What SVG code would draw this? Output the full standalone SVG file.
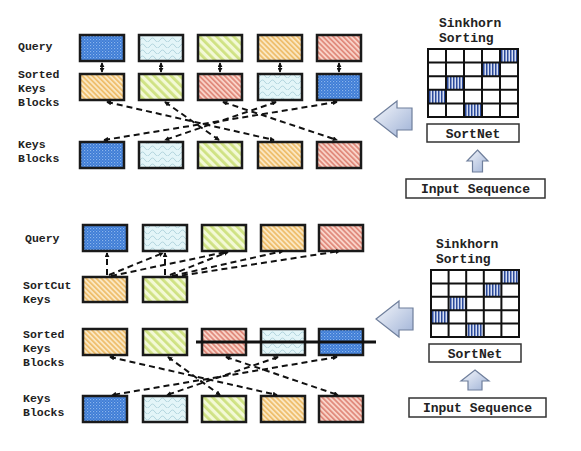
<svg xmlns="http://www.w3.org/2000/svg" width="581" height="451" viewBox="0 0 581 451">
<style>
.lbl{font-family:"Liberation Mono","DejaVu Sans Mono",monospace;font-size:11.5px;font-weight:bold;fill:#222}
.rt{font-family:"Liberation Mono","DejaVu Sans Mono",monospace;font-size:13px;font-weight:bold;fill:#222}
.box{stroke:#1a1a1a;stroke-width:2.5}
.b{fill:url(#pBlue)}.l{fill:url(#pLight)}.g{fill:url(#pGreen)}.o{fill:url(#pOrange)}.r{fill:url(#pRed)}
.dash{stroke:#111;stroke-width:2;stroke-dasharray:6 4;fill:none}
.tbox{fill:#fff;stroke:#333;stroke-width:1.5}
.grid{fill:none;stroke:#111;stroke-width:2}
.cell{fill:url(#pCell)}
.barrow{fill:url(#gArrow);stroke:#6f7f9c;stroke-width:1.2}
</style>
<defs>
<pattern id="pBlue" width="3" height="3" patternUnits="userSpaceOnUse"><rect width="3" height="3" fill="#3c7ad5"/><rect width="1.2" height="1.2" fill="#8ab5ec"/><rect x="1.5" y="1.5" width="1.2" height="1.2" fill="#6a9ee3"/></pattern>
<pattern id="pLight" width="10" height="6" patternUnits="userSpaceOnUse"><rect width="10" height="6" fill="#e3f5f8"/><path d="M0,4 q2.5,-4 5,0 t5,0" fill="none" stroke="#a6ccd6" stroke-width="0.8"/></pattern>
<pattern id="pGreen" width="6" height="6" patternUnits="userSpaceOnUse" patternTransform="rotate(-45)"><rect width="6" height="6" fill="#f3f9d6"/><rect width="2.8" height="6" fill="#cfe283"/></pattern>
<pattern id="pOrange" width="3.6" height="6" patternUnits="userSpaceOnUse" patternTransform="rotate(-45)"><rect width="3.6" height="6" fill="#fbe7c2"/><rect width="1.7" height="6" fill="#eebd6a"/></pattern>
<pattern id="pRed" width="3.6" height="6" patternUnits="userSpaceOnUse" patternTransform="rotate(-45)"><rect width="3.6" height="6" fill="#f9d3c8"/><rect width="1.7" height="6" fill="#e0887a"/></pattern>
<pattern id="pCell" width="3" height="6" patternUnits="userSpaceOnUse"><rect width="3" height="6" fill="#d6def2"/><rect width="1.5" height="6" fill="#2b4a9b"/></pattern>
<linearGradient id="gArrow" x1="0" y1="0" x2="1" y2="1"><stop offset="0" stop-color="#f6f8fc"/><stop offset="1" stop-color="#9fb2d6"/></linearGradient>
<marker id="ah" viewBox="0 0 6 6" refX="5" refY="3" markerWidth="5" markerHeight="5" markerUnits="userSpaceOnUse" orient="auto-start-reverse"><path d="M0,0L6,3L0,6z" fill="#111"/></marker>
</defs>

<!-- labels -->
<g id="labels-top">
<text class="lbl" x="18" y="50">Query</text>
<text class="lbl" x="18" y="78">Sorted</text>
<text class="lbl" x="18" y="92">Keys</text>
<text class="lbl" x="18" y="106">Blocks</text>
<text class="lbl" x="18" y="148">Keys</text>
<text class="lbl" x="18" y="162">Blocks</text>
</g>
<g id="labels-bottom">
<text class="lbl" x="25" y="242">Query</text>
<text class="lbl" x="23" y="289">SortCut</text>
<text class="lbl" x="23" y="303">Keys</text>
<text class="lbl" x="23" y="338">Sorted</text>
<text class="lbl" x="23" y="352">Keys</text>
<text class="lbl" x="23" y="366">Blocks</text>
<text class="lbl" x="23" y="402">Keys</text>
<text class="lbl" x="23" y="416">Blocks</text>
</g>

<!-- top section nodes -->
<g id="tq1"><rect class="box b" x="80" y="35" width="44" height="26"/></g>
<g id="tq2"><rect class="box l" x="139" y="35" width="44" height="26"/></g>
<g id="tq3"><rect class="box g" x="198" y="35" width="44" height="26"/></g>
<g id="tq4"><rect class="box o" x="258" y="35" width="44" height="26"/></g>
<g id="tq5"><rect class="box r" x="317" y="35" width="44" height="26"/></g>

<g id="ts1"><rect class="box o" x="80" y="74" width="44" height="26"/></g>
<g id="ts2"><rect class="box g" x="139" y="74" width="44" height="26"/></g>
<g id="ts3"><rect class="box r" x="198" y="74" width="44" height="26"/></g>
<g id="ts4"><rect class="box l" x="258" y="74" width="44" height="26"/></g>
<g id="ts5"><rect class="box b" x="317" y="74" width="44" height="26"/></g>

<g id="tk1"><rect class="box b" x="80" y="142" width="44" height="26"/></g>
<g id="tk2"><rect class="box l" x="139" y="142" width="44" height="26"/></g>
<g id="tk3"><rect class="box g" x="198" y="142" width="44" height="26"/></g>
<g id="tk4"><rect class="box o" x="258" y="142" width="44" height="26"/></g>
<g id="tk5"><rect class="box r" x="317" y="142" width="44" height="26"/></g>

<!-- bottom section nodes -->
<g id="bq1"><rect class="box b" x="83" y="225" width="44" height="26"/></g>
<g id="bq2"><rect class="box l" x="143" y="225" width="44" height="26"/></g>
<g id="bq3"><rect class="box g" x="202" y="225" width="44" height="26"/></g>
<g id="bq4"><rect class="box o" x="261" y="225" width="44" height="26"/></g>
<g id="bq5"><rect class="box r" x="319" y="225" width="44" height="26"/></g>

<g id="bc1"><rect class="box o" x="83" y="277" width="44" height="25"/></g>
<g id="bc2"><rect class="box g" x="143" y="277" width="44" height="25"/></g>

<g id="bs1"><rect class="box o" x="83" y="329" width="44" height="26"/></g>
<g id="bs2"><rect class="box g" x="143" y="329" width="44" height="26"/></g>
<g id="bs3"><rect class="box r" x="202" y="329" width="44" height="26"/></g>
<g id="bs4"><rect class="box l" x="261" y="329" width="44" height="26"/></g>
<g id="bs5"><rect class="box b" x="319" y="329" width="44" height="26"/></g>

<g id="bk1"><rect class="box b" x="83" y="396" width="44" height="26"/></g>
<g id="bk2"><rect class="box l" x="143" y="396" width="44" height="26"/></g>
<g id="bk3"><rect class="box g" x="202" y="396" width="44" height="26"/></g>
<g id="bk4"><rect class="box o" x="261" y="396" width="44" height="26"/></g>
<g id="bk5"><rect class="box r" x="319" y="396" width="44" height="26"/></g>

<!-- connectors -->
<g id="connectors">
<g stroke="#111" stroke-width="1.6" fill="none">
<line x1="102" y1="63" x2="102" y2="72" marker-start="url(#ah)" marker-end="url(#ah)"/>
<line x1="161" y1="63" x2="161" y2="72" marker-start="url(#ah)" marker-end="url(#ah)"/>
<line x1="220" y1="63" x2="220" y2="72" marker-start="url(#ah)" marker-end="url(#ah)"/>
<line x1="280" y1="63" x2="280" y2="72" marker-start="url(#ah)" marker-end="url(#ah)"/>
<line x1="339" y1="63" x2="339" y2="72" marker-start="url(#ah)" marker-end="url(#ah)"/>
</g>
<path class="dash" d="M107,102L274,140" marker-start="url(#ah)" marker-end="url(#ah)"/>
<path class="dash" d="M165,102L219,140" marker-start="url(#ah)" marker-end="url(#ah)"/>
<path class="dash" d="M223,102L337,140" marker-start="url(#ah)" marker-end="url(#ah)"/>
<path class="dash" d="M276,102L165,140" marker-start="url(#ah)" marker-end="url(#ah)"/>
<path class="dash" d="M337,102L104,140" marker-start="url(#ah)" marker-end="url(#ah)"/>

<path class="dash" d="M107,275L107,253" marker-end="url(#ah)"/>
<path class="dash" d="M165,275L165,253" marker-end="url(#ah)"/>
<path class="dash" d="M109,275L163,253" marker-end="url(#ah)"/>
<path class="dash" d="M111,276L226,252" marker-end="url(#ah)"/>
<path class="dash" d="M170,275L228,252" marker-end="url(#ah)"/>
<path class="dash" d="M172,276L283,251" marker-end="url(#ah)"/>
<path class="dash" d="M172,277L340,251" marker-end="url(#ah)"/>

<path class="dash" d="M110,357L277,395" marker-start="url(#ah)" marker-end="url(#ah)"/>
<path class="dash" d="M168,357L220,395" marker-start="url(#ah)" marker-end="url(#ah)"/>
<path class="dash" d="M226,357L338,395" marker-start="url(#ah)" marker-end="url(#ah)"/>
<path class="dash" d="M278,357L167,395" marker-start="url(#ah)" marker-end="url(#ah)"/>
<path class="dash" d="M337,357L112,395" marker-start="url(#ah)" marker-end="url(#ah)"/>

<line x1="196" y1="342" x2="376" y2="342" stroke="#111" stroke-width="3"/>
</g>

<!-- right panel top -->
<g id="sinkhorn-top">
<text class="rt" x="439" y="27">Sinkhorn</text>
<text class="rt" x="439" y="42">Sorting</text>
<rect class="cell" x="500" y="49" width="18" height="13.6"/>
<rect class="cell" x="482" y="62.6" width="18" height="13.6"/>
<rect class="cell" x="446" y="76.2" width="18" height="13.6"/>
<rect class="cell" x="428" y="89.8" width="18" height="13.6"/>
<rect class="cell" x="464" y="103.4" width="18" height="13.6"/>
<path class="grid" d="M428,49H518V117H428Z M446,49V117 M464,49V117 M482,49V117 M500,49V117 M428,62.6H518 M428,76.2H518 M428,89.8H518 M428,103.4H518"/>
</g>
<g id="sortnet-top">
<rect class="tbox" x="427" y="124" width="92" height="18"/>
<text class="rt" x="473" y="138" text-anchor="middle">SortNet</text>
</g>
<g id="input-top">
<rect class="tbox" x="406" y="179" width="139" height="19"/>
<text class="rt" x="475.5" y="193" text-anchor="middle">Input Sequence</text>
</g>
<g id="arrows-top">
<path class="barrow" d="M374,119L397,101V108H412V130H397V137Z"/>
<path class="barrow" d="M477.5,150L488,161H482.5V172H472.5V161H467Z"/>
</g>

<!-- right panel bottom -->
<g id="sinkhorn-bottom">
<text class="rt" x="436" y="248">Sinkhorn</text>
<text class="rt" x="436" y="263">Sorting</text>
<rect class="cell" x="501.4" y="270" width="17.6" height="13.4"/>
<rect class="cell" x="483.8" y="283.4" width="17.6" height="13.4"/>
<rect class="cell" x="448.6" y="296.8" width="17.6" height="13.4"/>
<rect class="cell" x="431" y="310.2" width="17.6" height="13.4"/>
<rect class="cell" x="466.2" y="323.6" width="17.6" height="13.4"/>
<path class="grid" d="M431,270H519V337H431Z M448.6,270V337 M466.2,270V337 M483.8,270V337 M501.4,270V337 M431,283.4H519 M431,296.8H519 M431,310.2H519 M431,323.6H519"/>
</g>
<g id="sortnet-bottom">
<rect class="tbox" x="429" y="344" width="92" height="18"/>
<text class="rt" x="475" y="358" text-anchor="middle">SortNet</text>
</g>
<g id="input-bottom">
<rect class="tbox" x="409" y="398" width="137" height="19"/>
<text class="rt" x="477.5" y="412" text-anchor="middle">Input Sequence</text>
</g>
<g id="arrows-bottom">
<path class="barrow" d="M376,319L399,301V308H413V330H399V337Z"/>
<path class="barrow" d="M475,370L489,381H482V390H468V381H461Z"/>
</g>
</svg>
